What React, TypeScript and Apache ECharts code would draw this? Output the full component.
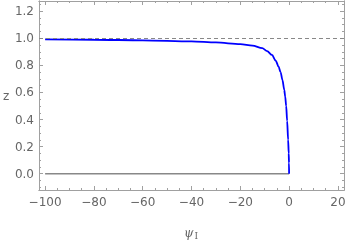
import React, { useEffect, useRef } from "react";
import * as echarts from "echarts";

const psi = [-100, -80, -60, -40, -30, -20, -15, -11, -9, -7, -5.5, -4.3, -3.5, -2.7, -2, -1.6, -1.2, -0.8, -0.4, -0.15, -0.05, 0];
const zVals = [0.992, 0.989, 0.985, 0.977, 0.969, 0.957, 0.945, 0.927, 0.905, 0.877, 0.835, 0.79, 0.75, 0.69, 0.62, 0.57, 0.5, 0.39, 0.25, 0.15, 0.08, 0];
const baseX = [-100, 0];
const baseZ = [0, 0];
const refLevel = 1;
const xRange = [-102.5, 22.5];
const yRange = [-0.12, 1.275];
const xMajor = [-100, -80, -60, -40, -20, 0, 20];
const xMinor = [-95, -90, -85, -75, -70, -65, -55, -50, -45, -35, -30, -25, -15, -10, -5, 5, 10, 15];
const yMajor = [0, 0.2, 0.4, 0.6, 0.8, 1.0, 1.2];
const yMinor = [-0.1, -0.05, 0.05, 0.1, 0.15, 0.25, 0.3, 0.35, 0.45, 0.5, 0.55, 0.65, 0.7, 0.75, 0.85, 0.9, 0.95, 1.05, 1.1, 1.15, 1.25];

const GRAY = "#a0a0a0";
const LABEL = "#666666";

export default function App() {
  const ref = useRef<HTMLDivElement>(null);
  useEffect(() => {
    const chart = echarts.init(ref.current!, null, { renderer: "svg" });
    const mk = (dim: "x" | "y", position: string, ticks: number[], len: number, extra: any = {}) => ({
      type: "value",
      min: dim === "x" ? xRange[0] : yRange[0],
      max: dim === "x" ? xRange[1] : yRange[1],
      position,
      axisLine: { show: true, onZero: false, lineStyle: { color: GRAY, width: 1 } },
      axisTick: { show: true, inside: true, length: len, customValues: ticks, lineStyle: { color: GRAY } },
      axisLabel: { show: false },
      splitLine: { show: false },
      ...extra,
    });
    chart.setOption({
      animation: false,
      grid: { left: 39, right: 3, top: 1, bottom: 56, containLabel: false, outerBoundsMode: "none" },
      graphic: [
        {
          type: "text",
          left: 3,
          top: 90,
          style: { text: "z", fill: LABEL, font: "12px 'DejaVu Sans'" },
        },
        {
          type: "text",
          left: 184,
          top: 227,
          style: {
            text: "{a|\u03C8}{b|I}",
            rich: {
              a: { fill: LABEL, fontSize: 12, fontFamily: "DejaVu Serif", fontStyle: "italic" },
              b: { fill: LABEL, fontSize: 9, fontFamily: "DejaVu Serif", padding: [5, 0, 0, 1] },
            },
          },
        },
      ],
      xAxis: [
        mk("x", "bottom", xMajor, 4, {
          axisLabel: {
            show: true,
            customValues: xMajor,
            color: LABEL, fontSize: 12, fontFamily: "DejaVu Sans", margin: 6,
            formatter: (v: number) => (v < 0 ? "\u2212" + Math.abs(v) : String(v)),
          },
        }),
        mk("x", "bottom", xMinor, 2),
        mk("x", "top", xMajor, 4),
        mk("x", "top", xMinor, 2),
      ],
      yAxis: [
        mk("y", "left", yMajor, 4, {
          axisLabel: {
            show: true,
            customValues: yMajor,
            color: LABEL, fontSize: 12, fontFamily: "DejaVu Sans", margin: 5,
            formatter: (v: number) => v.toFixed(1),
          },
        }),
        mk("y", "left", yMinor, 2),
        mk("y", "right", yMajor, 4),
        mk("y", "right", yMinor, 2),
      ],
      series: [
        {
          type: "line",
          data: baseX.map((x, i) => [x, baseZ[i]]),
          showSymbol: false,
          lineStyle: { color: "#888888", width: 1.5 },
          z: 2,
          markLine: {
            silent: true,
            symbol: "none",
            label: { show: false },
            lineStyle: { color: "#888888", type: [4, 3], width: 1.2 },
            data: [{ yAxis: refLevel }],
          },
        },
        {
          type: "line",
          data: psi.map((x, i) => [x, zVals[i]]),
          showSymbol: false,
          smooth: 0.3,
          smoothMonotone: "x",
          lineStyle: { color: "#0000ff", width: 1.8 },
          z: 3,
        },
      ],
    });
    return () => chart.dispose();
  }, []);
  return (
    <div
      ref={ref}
      style={{ position: "fixed", left: 0, top: 0, width: 347, height: 246, overflow: "hidden" }}
    />
  );
}
